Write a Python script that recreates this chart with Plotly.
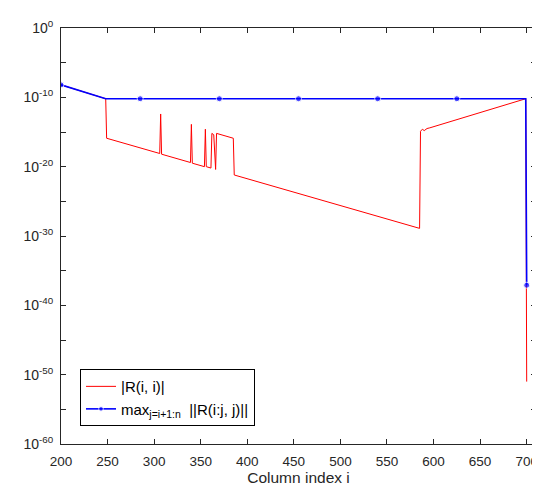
import plotly.graph_objects as go

# ---- data (x = column index, values as log10 exponents) ----
red_x = [200, 248, 249, 306, 307, 308, 339, 340, 341, 354, 355, 356, 361, 362, 364,
         366, 367, 375, 385, 386, 585, 586, 588, 590, 593, 596, 699, 700]
red_log10 = [-8.2, -10.2, -15.9, -18.1, -12.4, -18.2, -19.4, -13.9, -19.5, -20.0, -14.6, -20.0,
             -20.2, -15.2, -15.4, -20.4, -15.2, -15.5, -15.9, -21.2, -28.9, -14.9, -14.6,
             -14.8, -14.5, -14.4, -10.2, -51.0]

blue_x = [200, 248, 285, 370, 455, 540, 625, 699, 700]
blue_log10 = [-8.2, -10.2, -10.2, -10.2, -10.2, -10.2, -10.2, -10.2, -37.1]
blue_marker_on = [1, 0, 1, 1, 1, 1, 1, 0, 1]

x_ticks = [200, 250, 300, 350, 400, 450, 500, 550, 600, 650, 700]
y_major_exp = [0, -10, -20, -30, -40, -50, -60]
y_minor_exp = [-5, -15, -25, -35, -45, -55]

red_name = "|R(i, i)|"
blue_name = "max<sub>j=i+1:n</sub>&nbsp; ||R(i:j, j)||"

red_y = [10 ** e for e in red_log10]
blue_y = [10 ** e for e in blue_log10]

fig = go.Figure()
fig.add_trace(go.Scatter(x=red_x, y=red_y, mode="lines", name=red_name,
                         line=dict(color="#ff0000", width=1)))
fig.add_trace(go.Scatter(x=blue_x, y=blue_y, mode="lines+markers", name=blue_name,
                         line=dict(color="#0000ff", width=1.6),
                         marker=dict(color="#0000ff", size=[6 * m for m in blue_marker_on])))

axis_col = "#262626"
font_fam = "Liberation Sans, Arial, sans-serif"

y_tickvals = [10 ** e for e in y_major_exp]
y_ticktext = ["10<sup>%d</sup>" % e for e in y_major_exp]

fig.update_layout(
    width=540, height=487,
    margin=dict(l=53, r=10, t=16, b=51),
    paper_bgcolor="white", plot_bgcolor="white",
    font=dict(family=font_fam, size=13, color=axis_col),
    showlegend=True,
    legend=dict(x=0.04, y=0.043, xanchor="left", yanchor="bottom",
                bordercolor="#000000", borderwidth=1, bgcolor="white",
                font=dict(family=font_fam, size=15, color="#000000"),
                tracegroupgap=0),
)
fig.update_xaxes(
    range=[200, 710], tickvals=x_ticks, ticks="inside", ticklen=5,
    tickcolor=axis_col, showline=True, linecolor=axis_col, linewidth=1,
    mirror="ticks", showgrid=False, zeroline=False, ticklabelstandoff=5,
    title=dict(text="Column index i", font=dict(size=15.5, color=axis_col), standoff=3),
    tickfont=dict(size=13.5, color=axis_col),
)
fig.update_yaxes(
    type="log", range=[-60, 0], tickvals=y_tickvals, ticktext=y_ticktext,
    ticks="inside", ticklen=5, tickcolor=axis_col, showline=True,
    linecolor=axis_col, linewidth=1, mirror="ticks", showgrid=False,
    zeroline=False, ticklabelstandoff=4, tickfont=dict(size=14, color=axis_col),
    minor=dict(tickvals=[10 ** e for e in y_minor_exp], ticks="inside", ticklen=5,
               tickcolor=axis_col, showgrid=False),
)

fig.write_html("out.html")
